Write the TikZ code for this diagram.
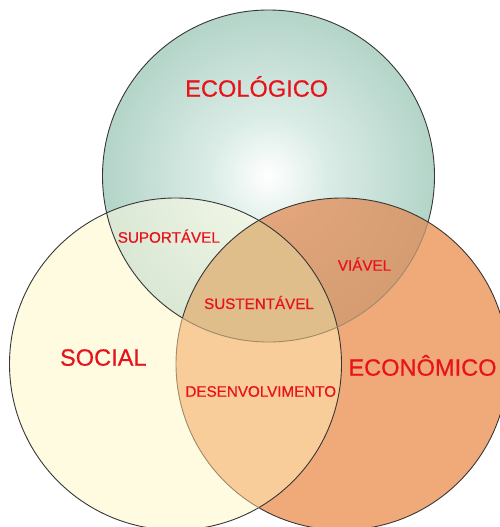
\documentclass[tikz,border=0pt]{standalone}
\usepackage{fontspec}
\setmainfont{Liberation Sans}
\newfontfamily\lblfont[FakeBold=0.6]{Liberation Sans}
\definecolor{cream}{RGB}{255,251,224}
\definecolor{salmon}{RGB}{240,170,122}
\definecolor{lrcol}{RGB}{248,205,154}
\definecolor{tealedge}{RGB}{126,175,155}
\definecolor{tealmid}{RGB}{168,205,191}
\definecolor{teallight}{RGB}{218,236,230}
\definecolor{viacol}{RGB}{226,136,80}
\definecolor{suscol}{RGB}{223,190,140}
\definecolor{lab}{RGB}{232,18,26}
\definecolor{darkline}{RGB}{55,55,55}
\definecolor{lightline}{RGB}{160,138,105}
\pgfdeclareradialshading{ecoshade}{\pgfpoint{0bp}{0bp}}{color(0bp)=(white); color(9bp)=(teallight); color(30bp)=(tealmid); color(50bp)=(tealedge)}
\begin{document}
\begin{tikzpicture}[x=1pt,y=-1pt,
  lbl/.style={text=lab, inner sep=0pt, anchor=base},
  big/.style={lbl, font=\lblfont\fontsize{23.6}{28}\selectfont},
  small/.style={lbl, font=\lblfont\fontsize{15.2}{18}\selectfont},
  dk/.style={draw=darkline, line width=0.9pt},
  lt/.style={draw=lightline, line width=0.9pt}]
\useasboundingbox (0,0) rectangle (500,527);
\clip (0,0) rectangle (500,527);
\def\rad{166pt}
\coordinate (E) at (268.5,176);
\coordinate (S) at (175.5,364);
\coordinate (C) at (342,364);
% fills
\fill[cream] (S) circle (\rad);
\fill[salmon] (C) circle (\rad);
\begin{scope}
  \clip (S) circle (\rad);
  \fill[lrcol] (C) circle (\rad);
\end{scope}
\begin{scope}
  \clip (E) circle (\rad);
  \shade[shading=ecoshade] (E) circle (\rad);
  \begin{scope}
    \clip (S) circle (\rad);
    \fill[cream, opacity=0.5] (E) circle (\rad);
  \end{scope}
  \begin{scope}
    \clip (C) circle (\rad);
    \fill[viacol, opacity=0.72] (E) circle (\rad);
  \end{scope}
  \begin{scope}
    \clip (C) circle (\rad);
    \clip (S) circle (\rad);
    \fill[suscol] (E) circle (\rad);
  \end{scope}
\end{scope}
% outlines
\draw[dk] (S) circle (\rad);
\begin{scope}[even odd rule]
  \clip (-10,-10) rectangle (510,540) (C) circle (\rad);
  \draw[dk] (E) circle (\rad);
\end{scope}
\begin{scope}
  \clip (C) circle (\rad);
  \draw[lt] (E) circle (\rad);
\end{scope}
\begin{scope}[even odd rule]
  \clip (-10,-10) rectangle (510,540) (S) circle (\rad);
  \draw[dk] (C) circle (\rad);
\end{scope}
\begin{scope}
  \clip (S) circle (\rad);
  \clip (E) circle (\rad);
  \draw[dk] (C) circle (\rad);
\end{scope}
\begin{scope}[even odd rule]
  \clip (S) circle (\rad);
  \clip (-10,-10) rectangle (510,540) (E) circle (\rad);
  \draw[lt] (C) circle (\rad);
\end{scope}
% labels
\node[big] (eco) at (256.7,96.7) {ECOLÓGICO};
\node[big] (soc) at (103.3,365.7) {SOCIAL};
\node[big] (econ) at (422.5,375.7) {ECONÔMICO};
\node[small] (sup) at (168.8,242.7) {SUPORTÁVEL};
\node[small] (sus) at (259,309) {SUSTENTÁVEL};
\node[small] (via) at (364.5,270.7) {VIÁVEL};
\node[small] (des) at (260.8,396.7) {DESENVOLVIMENTO};
\end{tikzpicture}
\end{document}
